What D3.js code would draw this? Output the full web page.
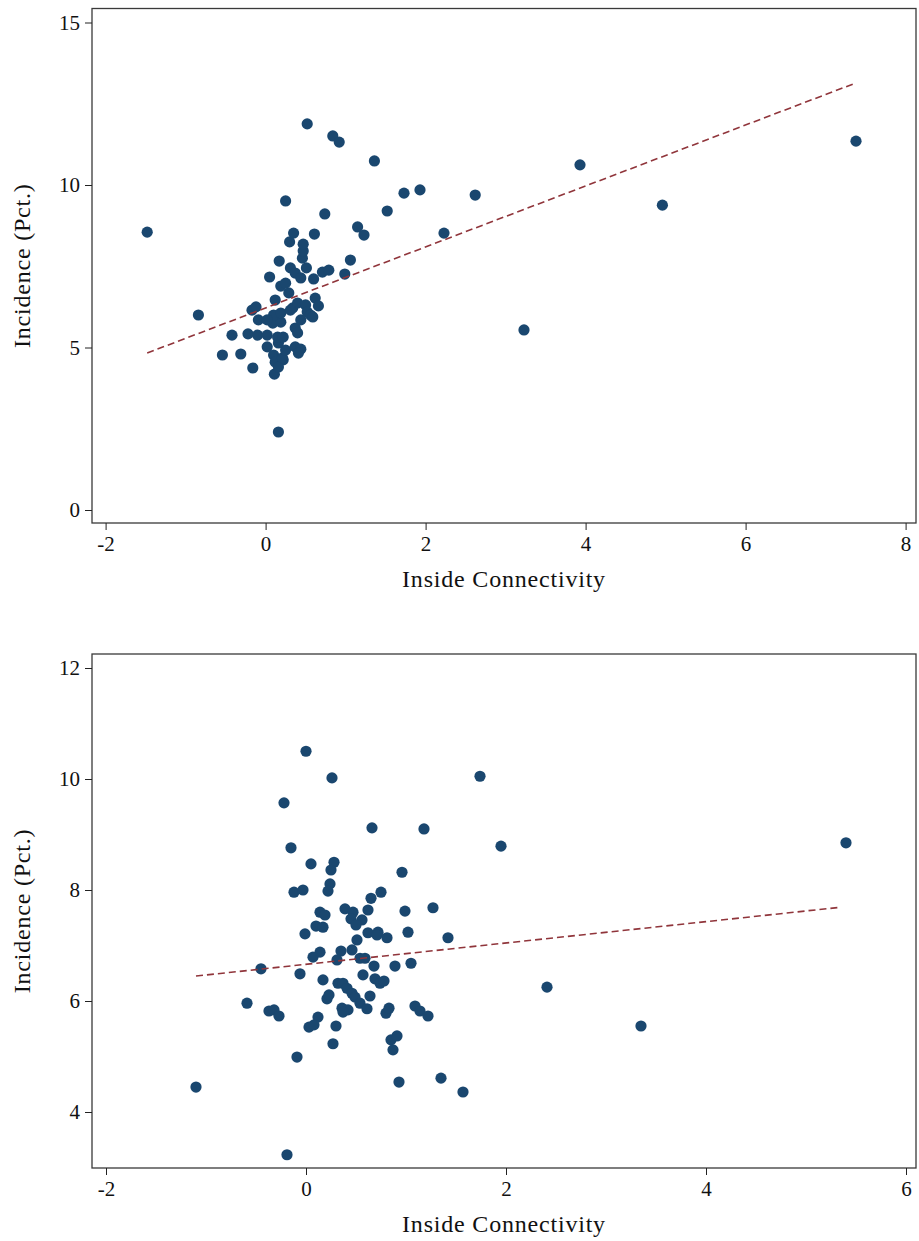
<!DOCTYPE html>
<html>
<head>
<meta charset="utf-8">
<script src="https://cdn.jsdelivr.net/npm/d3@7"></script>
<style>
  body { margin: 0; background: #fff; }
  svg { display: block; }
</style>
</head>
<body>
<div id="chart"></div>
<script>
// values (connectivity, incidence %)
const topConn = [-1.48, -0.84, -0.54, -0.31, -0.42, -0.22, -0.16, -0.17, -0.12, -0.09,
  -0.10, 0.02, 0.02, 0.16, 0.11, 0.10, 0.19, 0.12, 0.22, 0.16,
  0.21, 0.25, 0.37, 0.44, 0.41, 0.16, 0.15, 0.22, 0.37, 0.40,
  0.09, 0.19, 0.44, 0.10, 0.19, 0.34, 0.40, 0.50, 0.52, 0.56,
  0.59, 0.62, 0.66, 0.12, 0.29, 0.19, 0.25, 0.31, 0.37, 0.44,
  0.51, 0.60, 0.71, 0.79, 0.99, 1.06, 0.05, 0.17, 0.46, 0.47,
  0.47, 0.30, 0.35, 0.61, 0.25, 0.74, 1.15, 1.23, 1.52, 1.73,
  1.93, 2.62, 2.23, 0.52, 0.84, 0.92, 1.36, 3.93, 3.23, 4.96,
  7.38, 0.02, 0.31];
const topIncid = [8.55, 6.00, 4.77, 4.80, 5.38, 5.42, 4.37, 6.15, 6.25, 5.85,
  5.38, 5.38, 5.02, 2.40, 4.18, 4.77, 4.62, 4.55, 4.62, 4.40,
  4.68, 4.92, 5.02, 4.95, 4.83, 5.14, 5.32, 5.32, 5.60, 5.45,
  5.75, 5.78, 5.85, 6.00, 6.06, 6.22, 6.37, 6.31, 6.09, 6.00,
  5.94, 6.52, 6.28, 6.46, 6.68, 6.89, 6.98, 7.45, 7.29, 7.14,
  7.45, 7.11, 7.32, 7.38, 7.26, 7.69, 7.17, 7.66, 7.75, 7.97,
  8.18, 8.25, 8.52, 8.49, 9.51, 9.11, 8.71, 8.46, 9.20, 9.75,
  9.85, 9.69, 8.52, 11.88, 11.51, 11.32, 10.74, 10.62, 5.54, 9.38,
  11.35, 5.85, 6.15];
const topFitConn = [-1.48, 7.38];
const topFitIncid = [4.83, 13.14];

const botConn = [0.00, 0.26, -0.22, 0.66, 1.18, 1.74, 1.95, 5.40, -0.15, 0.05,
  0.28, 0.25, 0.24, 0.22, -0.12, -0.03, 0.96, 0.75, 0.65, 1.27,
  0.99, 0.62, 0.39, 0.47, 0.14, 0.19, 0.45, 0.56, 0.50, 0.10,
  0.17, -0.01, 1.02, 0.62, 0.72, 0.71, 0.81, 0.51, 1.42, 0.14,
  0.07, 0.35, 0.46, 0.31, 0.54, 0.59, 0.68, 0.89, 1.05, -0.45,
  -0.06, 0.17, 0.57, 0.32, 0.37, 0.41, 0.46, 0.49, 0.54, 0.61,
  0.64, 0.69, 0.74, 0.78, 0.21, 0.23, 0.36, 0.42, 0.37, -0.59,
  -0.37, -0.32, -0.27, 0.12, 0.03, 0.08, 0.30, 0.27, -0.09, 0.80,
  0.83, 1.09, 1.14, 1.22, 0.85, 0.91, 0.87, -1.10, 0.93, 1.35,
  1.57, -0.19, 2.41, 3.35];
const botIncid = [10.50, 10.02, 9.57, 9.12, 9.10, 10.05, 8.79, 8.85, 8.76, 8.47,
  8.50, 8.36, 8.11, 7.98, 7.96, 8.00, 8.32, 7.96, 7.85, 7.68,
  7.62, 7.64, 7.66, 7.60, 7.60, 7.55, 7.48, 7.46, 7.37, 7.35,
  7.33, 7.21, 7.24, 7.23, 7.24, 7.19, 7.14, 7.10, 7.14, 6.88,
  6.79, 6.90, 6.92, 6.74, 6.77, 6.77, 6.63, 6.63, 6.68, 6.58,
  6.49, 6.38, 6.47, 6.32, 6.32, 6.23, 6.14, 6.07, 5.96, 5.86,
  6.09, 6.40, 6.32, 6.36, 6.04, 6.11, 5.87, 5.84, 5.80, 5.96,
  5.82, 5.84, 5.73, 5.71, 5.53, 5.57, 5.55, 5.23, 4.99, 5.78,
  5.87, 5.91, 5.82, 5.73, 5.30, 5.37, 5.12, 4.45, 4.54, 4.61,
  4.36, 3.23, 6.25, 5.55];
const botFitConn = [-1.10, 5.35];
const botFitIncid = [6.45, 7.69];

const topXTicks = [-2, 0, 2, 4, 6, 8];
const topYTicks = [0, 5, 10, 15];
const botXTicks = [-2, 0, 2, 4, 6];
const botYTicks = [4, 6, 8, 10, 12];

const width = 919;
const height = 1241;
const dotColor = "#1a476f";
const fitColor = "#90353b";
const fontFam = "\"Liberation Serif\", \"Times New Roman\", \"DejaVu Serif\", serif";

const svg = d3.select("#chart")
  .append("svg")
  .attr("width", width)
  .attr("height", height);

//one scatter panel with frame, axes and fit line
function drawPanel(cfg) {
  const frame = cfg.frame;

  const xScale = d3.scaleLinear()
    .domain(cfg.xDomain)
    .range(cfg.xRange);

  const yScale = d3.scaleLinear()
    .domain(cfg.yDomain)
    .range(cfg.yRange);

  const g = svg.append("g");

  //frame
  g.append("rect")
    .attr("x", frame.left)
    .attr("y", frame.top)
    .attr("width", frame.right - frame.left)
    .attr("height", frame.bottom - frame.top)
    .attr("fill", "none")
    .attr("stroke", "#3a3a3a")
    .attr("stroke-width", 1.3);

  //plain hyphen for negatives like the original
  const fmt = function(d) { return String(d); };

  //x axis
  const xAxis = g.append("g")
    .attr("transform", "translate(0," + frame.bottom + ")")
    .call(d3.axisBottom(xScale).tickValues(cfg.xTicks).tickFormat(fmt)
      .tickSize(7).tickSizeOuter(0).tickPadding(6));
  xAxis.select(".domain").remove();
  xAxis.selectAll("text")
    .style("font-family", fontFam)
    .style("font-size", "21px")
    .attr("fill", "#111");
  xAxis.selectAll("line").attr("stroke", "#222");

  //y axis
  const yAxis = g.append("g")
    .attr("transform", "translate(" + frame.left + ",0)")
    .call(d3.axisLeft(yScale).tickValues(cfg.yTicks).tickFormat(fmt)
      .tickSize(7).tickSizeOuter(0).tickPadding(5));
  yAxis.select(".domain").remove();
  yAxis.selectAll("text")
    .style("font-family", fontFam)
    .style("font-size", "21px")
    .attr("fill", "#111");
  yAxis.selectAll("line").attr("stroke", "#222");

  //points
  const pts = cfg.xs.map(function(d, i) { return { x: d, y: cfg.ys[i] }; });
  g.selectAll("circle")
    .data(pts)
    .enter()
    .append("circle")
    .attr("cx", function(d) { return xScale(d.x); })
    .attr("cy", function(d) { return yScale(d.y); })
    .attr("r", 5.6)
    .attr("fill", dotColor);

  //fitted line
  const fit = cfg.fitX.map(function(d, i) { return { x: d, y: cfg.fitY[i] }; });
  g.append("path")
    .datum(fit)
    .attr("d", d3.line().x(function(d) { return xScale(d.x); }).y(function(d) { return yScale(d.y); }))
    .attr("fill", "none")
    .attr("stroke", fitColor)
    .attr("stroke-width", 1.6)
    .attr("stroke-dasharray", "7,4");

  //axis titles
  g.append("text")
    .attr("x", (frame.left + frame.right) / 2)
    .attr("y", frame.bottom + 64)
    .attr("text-anchor", "middle")
    .style("font-family", fontFam)
    .style("font-size", "24px")
    .style("letter-spacing", "0.8px")
    .attr("fill", "#111")
    .text("Inside Connectivity");

  g.append("text")
    .attr("transform", "translate(30," + ((frame.top + frame.bottom) / 2) + ") rotate(-90)")
    .attr("text-anchor", "middle")
    .style("font-family", fontFam)
    .style("font-size", "24px")
    .style("letter-spacing", "0.8px")
    .attr("fill", "#111")
    .text("Incidence (Pct.)");
}

drawPanel({
  frame: { left: 92, right: 916, top: 8.5, bottom: 523 },
  xDomain: [-2, 8], xRange: [105.6, 905.6],
  yDomain: [0, 15], yRange: [510, 22.5],
  xTicks: topXTicks, yTicks: topYTicks,
  xs: topConn, ys: topIncid,
  fitX: topFitConn, fitY: topFitIncid
});

drawPanel({
  frame: { left: 92, right: 916, top: 654, bottom: 1168 },
  xDomain: [-2, 6], xRange: [106, 906],
  yDomain: [4, 12], yRange: [1112, 668],
  xTicks: botXTicks, yTicks: botYTicks,
  xs: botConn, ys: botIncid,
  fitX: botFitConn, fitY: botFitIncid
});
</script>
</body>
</html>
